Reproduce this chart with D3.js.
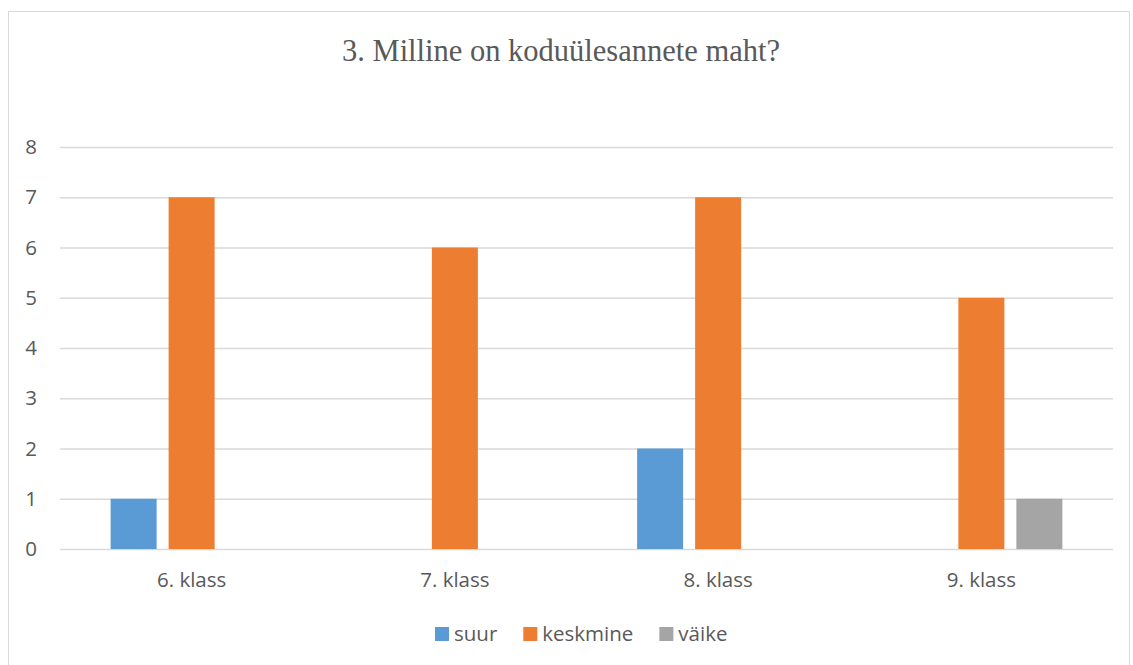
<!DOCTYPE html>
<html><head><meta charset="utf-8">
<script src="https://cdn.jsdelivr.net/npm/d3@7"></script>
<style>body{margin:0;background:#fff}svg{display:block}</style>
</head><body>
<svg id="c" width="1133" height="665"></svg>
<script>
const title = "3. Milline on koduülesannete maht?";
const categories = ["6. klass", "7. klass", "8. klass", "9. klass"];
const seriesNames = ["suur", "keskmine", "väike"];
const suur = [1, 0, 2, 0];
const keskmine = [7, 6, 7, 5];
const vaike = [0, 0, 0, 1];
const yTicks = [0, 1, 2, 3, 4, 5, 6, 7, 8];
const colors = ["#5b9bd5", "#ed7d31", "#a5a5a5"];

const seriesValues = [suur, keskmine, vaike];
const svg = d3.select("#c");
const font = "'Open Sans', sans-serif";
const textCol = "#595959";
const fs = 20.5;

svg.append("rect").attr("x", 8.5).attr("y", 11.5).attr("width", 1121).attr("height", 700)
  .attr("fill", "#fff").attr("stroke", "#d9d9d9").attr("stroke-width", 1);

svg.append("text").attr("x", 561).attr("y", 61).attr("text-anchor", "middle")
  .attr("font-family", "'Liberation Serif', 'Times New Roman', serif").attr("font-size", 30.5)
  .attr("fill", textCol).text(title);

const plotL = 60, plotR = 1113, plotT = 147, plotB = 549;
const y = d3.scaleLinear().domain([0, 8]).range([plotB, plotT]);
const x0 = d3.scaleBand().domain(categories).range([plotL, plotR]).paddingInner(0).paddingOuter(0);
const groupW = 162;
const x1 = d3.scaleBand().domain(seriesNames).range([0, groupW]).paddingInner(12 / 58).paddingOuter(0);

const yAxis = d3.axisLeft(y).tickValues(yTicks).tickSize(-(plotR - plotL)).tickPadding(23);
const gy = svg.append("g").attr("transform", `translate(${plotL},0)`).call(yAxis);
gy.select(".domain").remove();
gy.selectAll(".tick line").attr("stroke", "#d9d9d9").attr("stroke-width", 1.3);
gy.selectAll(".tick text").attr("font-family", font).attr("font-size", fs).attr("fill", textCol);

const groupOffset = (x0.bandwidth() - groupW) / 2;
categories.forEach((cat, i) => {
  const g = svg.append("g").attr("transform", `translate(${x0(cat) + groupOffset},0)`);
  seriesNames.forEach((s, j) => {
    const v = seriesValues[j][i];
    if (v > 0) {
      g.append("rect").attr("x", x1(s)).attr("width", x1.bandwidth())
        .attr("y", y(v)).attr("height", y(0) - y(v)).attr("fill", colors[j]);
    }
  });
});

const xAxis = d3.axisBottom(x0).tickSize(0).tickPadding(0);
const gx = svg.append("g").attr("transform", `translate(0,${plotB})`).call(xAxis);
gx.select(".domain").remove();
gx.selectAll(".tick text").attr("font-family", font).attr("font-size", fs).attr("fill", textCol)
  .attr("dy", null).attr("y", 38);

// legend
const leg = svg.append("g");
let lx = 435;
seriesNames.forEach((s, j) => {
  leg.append("rect").attr("x", lx).attr("y", 627).attr("width", 14).attr("height", 14).attr("fill", colors[j]);
  const t = leg.append("text").attr("x", lx + 19).attr("y", 641).attr("font-family", font)
    .attr("font-size", fs).attr("fill", textCol).text(s);
  lx += 19 + t.node().getComputedTextLength() + 26;
});
</script>
</body></html>
